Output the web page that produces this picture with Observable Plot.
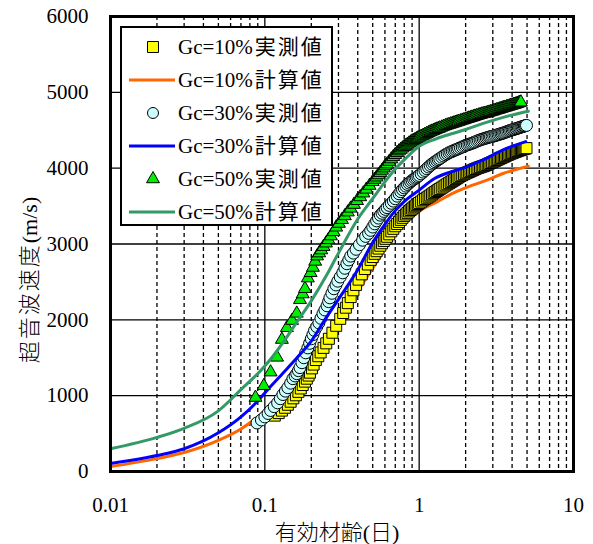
<!DOCTYPE html>
<html>
<head>
<meta charset="utf-8">
<script src="https://cdn.jsdelivr.net/npm/d3@7"></script>
<script src="https://cdn.jsdelivr.net/npm/@observablehq/plot@0.6"></script>
<style>
  html, body { margin: 0; padding: 0; background: white; }
  #wrap { position: relative; width: 593px; height: 544px; }
  #legend { position: absolute; left: 120px; top: 26px; width: 213px; height: 200px; box-sizing: border-box; border: 2px solid black; background: white; }
</style>
</head>
<body>
<div id="wrap"><div id="chart"></div><div id="legend"></div></div>
<script>
// ---- axis ticks ----
const xMajor = [0.01, 0.1, 1, 10];
const xMinorMult = [2, 3, 4, 5, 6, 7, 8, 9];
const yTicks = [0, 1000, 2000, 3000, 4000, 5000, 6000];

// ---- series names ----
const seriesNames = ["Gc=10%実測値", "Gc=10%計算値", "Gc=30%実測値", "Gc=30%計算値", "Gc=50%実測値", "Gc=50%計算値"];

// ---- calculated curves (計算値) ----
const calc10T = [0.01, 0.02, 0.03, 0.05, 0.07, 0.09, 0.1, 0.12, 0.15, 0.2, 0.25, 0.3, 0.4, 0.5, 0.565, 0.7, 0.84, 1.03, 1.33, 1.61, 2.0, 2.64, 3.5, 5.1];
const calc10V = [65, 170, 250, 410, 560, 720, 790, 950, 1180, 1480, 1750, 1980, 2380, 2680, 2850, 3140, 3320, 3450, 3566, 3658, 3740, 3829, 3930, 4026];

const calc30T = [0.01, 0.02, 0.03, 0.05, 0.07, 0.09, 0.11, 0.13, 0.16, 0.2, 0.25, 0.3, 0.4, 0.5, 0.6, 0.7, 0.8, 1.0, 1.25, 1.6, 2.0, 2.6, 3.5, 4.9];
const calc30V = [105, 210, 300, 510, 720, 930, 1130, 1290, 1490, 1720, 2030, 2270, 2660, 3020, 3260, 3440, 3560, 3710, 3860, 3950, 4010, 4110, 4240, 4350];

const calc50T = [0.01, 0.02, 0.03, 0.05, 0.07, 0.1, 0.13, 0.16, 0.2, 0.25, 0.3, 0.4, 0.5, 0.6, 0.7, 0.8, 1.0, 1.3, 1.6, 2.0, 2.6, 3.5, 5.1];
const calc50V = [300, 450, 570, 800, 1080, 1390, 1690, 1960, 2250, 2580, 2880, 3330, 3600, 3820, 3990, 4110, 4290, 4390, 4450, 4510, 4590, 4670, 4750];

// ---- measured points (実測値), early ages: own time stamps ----
const meas10T = [0.116, 0.123, 0.129, 0.135, 0.141, 0.147, 0.153, 0.159, 0.165, 0.171, 0.176, 0.182, 0.187, 0.192, 0.196, 0.202, 0.207, 0.214, 0.222, 0.230, 0.240, 0.250, 0.260, 0.274, 0.290, 0.308, 0.322, 0.335, 0.345, 0.360, 0.375, 0.390, 0.405, 0.425, 0.445, 0.465, 0.485];
const meas10V = [737, 770, 803, 840, 880, 920, 965, 1005, 1050, 1095, 1140, 1185, 1224, 1265, 1303, 1360, 1410, 1470, 1520, 1570, 1630, 1690, 1750, 1830, 1921, 2013, 2090, 2160, 2220, 2300, 2390, 2460, 2530, 2600, 2670, 2730, 2790];

const meas30T = [0.089, 0.095, 0.100, 0.105, 0.109, 0.115, 0.121, 0.126, 0.131, 0.136, 0.141, 0.147, 0.152, 0.157, 0.161, 0.165, 0.169, 0.174, 0.179, 0.184, 0.190, 0.195, 0.200, 0.205, 0.210, 0.217, 0.224, 0.231, 0.238, 0.245, 0.253, 0.259, 0.264, 0.272, 0.280, 0.289, 0.297, 0.308, 0.320, 0.330, 0.340, 0.350, 0.360, 0.375, 0.39, 0.41, 0.43, 0.45, 0.47, 0.485];
const meas30V = [640, 680, 720, 765, 805, 855, 905, 960, 1015, 1060, 1105, 1165, 1224, 1260, 1290, 1330, 1370, 1435, 1500, 1565, 1630, 1690, 1750, 1805, 1860, 1910, 1960, 2020, 2080, 2130, 2185, 2240, 2290, 2350, 2410, 2460, 2510, 2565, 2620, 2680, 2740, 2790, 2840, 2880, 2930, 2990, 3050, 3100, 3140, 3180];

const meas50T = [0.087, 0.0985, 0.109, 0.120, 0.129, 0.139, 0.150, 0.161, 0.169, 0.176, 0.182, 0.190, 0.198, 0.205, 0.212, 0.218, 0.225, 0.232, 0.240, 0.249, 0.258, 0.268, 0.279, 0.290, 0.302, 0.316, 0.330, 0.345, 0.360, 0.378, 0.396, 0.415, 0.435, 0.455, 0.477];
const meas50V = [975, 1130, 1310, 1505, 1740, 1895, 1990, 2085, 2265, 2340, 2410, 2550, 2620, 2690, 2770, 2840, 2880, 2920, 2965, 3010, 3055, 3105, 3160, 3220, 3270, 3320, 3370, 3420, 3470, 3520, 3570, 3620, 3670, 3720, 3770];

// ---- measured points, later ages: common time stamps for all specimens ----
const measLateT = [0.50, 0.515, 0.53, 0.545, 0.56, 0.575, 0.59, 0.605, 0.62, 0.64, 0.66, 0.68, 0.70, 0.72, 0.74, 0.76, 0.78, 0.80, 0.82, 0.84, 0.86, 0.88, 0.90, 0.92, 0.94, 0.96, 0.98, 1.00, 1.03, 1.06, 1.09, 1.12, 1.15, 1.18, 1.21, 1.24, 1.27, 1.30, 1.33, 1.36, 1.40, 1.44, 1.48, 1.52, 1.56, 1.60, 1.64, 1.68, 1.72, 1.76, 1.80, 1.85, 1.90, 1.95, 2.00, 2.05, 2.10, 2.15, 2.20, 2.25, 2.30, 2.36, 2.42, 2.48, 2.54, 2.60, 2.66, 2.72, 2.78, 2.84, 2.90, 2.97, 3.04, 3.11, 3.18, 3.25, 3.32, 3.39, 3.46, 3.53, 3.60, 3.68, 3.76, 3.84, 3.92, 4.00, 4.08, 4.16, 4.24, 4.32, 4.40, 4.48, 4.56, 4.64, 4.72, 4.80, 4.88, 4.96];
const meas10LateV = [2828, 2870, 2905, 2940, 2977, 3010, 3040, 3068, 3095, 3128, 3167, 3200, 3234, 3263, 3291, 3318, 3345, 3370, 3390, 3410, 3430, 3448, 3466, 3482, 3497, 3512, 3527, 3541, 3559, 3577, 3594, 3610, 3625, 3640, 3655, 3670, 3685, 3699, 3713, 3726, 3742, 3758, 3773, 3788, 3802, 3816, 3829, 3842, 3856, 3869, 3881, 3896, 3907, 3920, 3931, 3941, 3951, 3960, 3969, 3978, 3988, 3997, 4005, 4013, 4020, 4026, 4033, 4042, 4051, 4060, 4068, 4078, 4088, 4097, 4107, 4116, 4125, 4133, 4142, 4150, 4158, 4167, 4175, 4184, 4192, 4198, 4205, 4212, 4218, 4225, 4231, 4236, 4241, 4246, 4251, 4256, 4260, 4264];
const meas30LateV = [3224, 3266, 3305, 3342, 3380, 3405, 3430, 3456, 3480, 3509, 3537, 3566, 3597, 3631, 3662, 3690, 3716, 3740, 3763, 3785, 3803, 3821, 3837, 3852, 3866, 3878, 3890, 3904, 3925, 3948, 3970, 3993, 4015, 4035, 4054, 4070, 4085, 4100, 4113, 4126, 4144, 4161, 4177, 4190, 4203, 4213, 4223, 4232, 4241, 4250, 4258, 4269, 4279, 4290, 4300, 4307, 4314, 4322, 4329, 4337, 4345, 4355, 4364, 4372, 4379, 4386, 4392, 4398, 4404, 4410, 4414, 4419, 4424, 4430, 4436, 4442, 4448, 4454, 4459, 4465, 4472, 4479, 4486, 4493, 4499, 4505, 4510, 4515, 4520, 4525, 4531, 4536, 4541, 4546, 4551, 4556, 4560, 4564];
const meas50LateV = [3820, 3850, 3880, 3910, 3940, 3970, 4000, 4028, 4053, 4087, 4120, 4149, 4177, 4203, 4225, 4245, 4264, 4281, 4298, 4313, 4328, 4342, 4355, 4365, 4375, 4385, 4395, 4405, 4418, 4430, 4443, 4455, 4466, 4477, 4486, 4496, 4505, 4513, 4520, 4528, 4539, 4550, 4558, 4566, 4574, 4581, 4588, 4595, 4602, 4608, 4615, 4622, 4630, 4637, 4645, 4651, 4658, 4665, 4671, 4677, 4684, 4691, 4698, 4705, 4711, 4716, 4720, 4725, 4731, 4737, 4742, 4748, 4755, 4762, 4768, 4773, 4779, 4785, 4791, 4796, 4801, 4807, 4813, 4819, 4825, 4830, 4835, 4840, 4846, 4852, 4858, 4864, 4870];

// ---- build tables ----
const zip = (T, V) => V.map((v, i) => ({t: T[i], v}));
const c10 = zip(calc10T, calc10V), c30 = zip(calc30T, calc30V), c50 = zip(calc50T, calc50V);
const m10 = zip(meas10T, meas10V).concat(zip(measLateT, meas10LateV));
const m30 = zip(meas30T, meas30V).concat(zip(measLateT, meas30LateV));
const m50 = zip(meas50T, meas50V).concat(zip(measLateT, meas50LateV));
const xMinor = xMajor.slice(0, 3).flatMap(d => xMinorMult.map(m => +(d * m).toPrecision(3)));

const serif = "'Liberation Serif', 'Times New Roman', 'Noto Sans CJK JP', serif";
const cjk = "'Liberation Serif', 'Noto Sans CJK JP', sans-serif";

const style = {
  orange: "#ff6600", blue: "#0000ff", green: "#339966",
  sq: "#ffff00", ci: "#ccffff", tr: "#00ee00"
};
const rSq = 6.2, rCi = 6, rTr = 4.8;

const chart = Plot.plot({
  width: 593, height: 544,
  marginLeft: 110, marginRight: 20, marginTop: 16, marginBottom: 73,
  style: {fontFamily: serif, fontSize: "21px", color: "black", background: "white", overflow: "visible"},
  x: {type: "log", domain: [0.01, 10]},
  y: {domain: [0, 6000]},
  marks: [
    Plot.ruleX(xMinor, {stroke: "black", strokeWidth: 1.3, strokeDasharray: "4,3"}),
    Plot.ruleX(xMajor.slice(1, 3), {stroke: "black", strokeWidth: 1.3}),
    Plot.ruleY(yTicks.slice(1, 6), {stroke: "black", strokeWidth: 1.3}),
    Plot.line(c10, {x: "t", y: "v", stroke: style.orange, strokeWidth: 3, curve: "monotone-x"}),
    Plot.dot(m10, {x: "t", y: "v", symbol: "square", r: rSq, fill: style.sq, stroke: "black", strokeWidth: 1}),
    Plot.dot(m30, {x: "t", y: "v", symbol: "circle", r: rCi, fill: style.ci, stroke: "black", strokeWidth: 1}),
    Plot.line(c30, {x: "t", y: "v", stroke: style.blue, strokeWidth: 3, curve: "monotone-x"}),
    Plot.dot(m50, {x: "t", y: "v", symbol: "triangle", r: rTr, fill: style.tr, stroke: "black", strokeWidth: 1}),
    Plot.line(c50, {x: "t", y: "v", stroke: style.green, strokeWidth: 3, curve: "monotone-x"}),
    Plot.frame({stroke: "black", strokeWidth: 3}),
    Plot.axisX(xMajor, {tickSize: 0, tickPadding: 26, tickFormat: d3.format("~g"), label: null, fontSize: 21}),
    Plot.axisY(yTicks, {tickSize: 0, tickPadding: 22, tickFormat: d3.format("d"), label: null, fontSize: 21})
  ]
});
document.getElementById("chart").appendChild(chart);

// axis titles
const svg = d3.select(chart);
const yl = svg.append("text")
  .attr("transform", "translate(29,280) rotate(-90)")
  .attr("text-anchor", "middle").attr("dominant-baseline", "central")
  .style("font-family", cjk).style("font-size", "22px").style("font-weight", "300").attr("fill", "black");
yl.append("tspan").style("letter-spacing", "2px").text("超音波速度");
yl.append("tspan").text("(m/s)");
svg.append("text")
  .attr("x", 337).attr("y", 532)
  .attr("text-anchor", "middle").attr("dominant-baseline", "central")
  .style("font-family", cjk).style("font-size", "22px").style("font-weight", "300").attr("fill", "black")
  .text("有効材齢(日)");

// legend
const legendItems = [
  {name: seriesNames[0], kind: "dot", sym: d3.symbolSquare, r: rSq, fill: style.sq},
  {name: seriesNames[1], kind: "line", color: style.orange},
  {name: seriesNames[2], kind: "dot", sym: d3.symbolCircle, r: 5.5, fill: style.ci},
  {name: seriesNames[3], kind: "line", color: style.blue},
  {name: seriesNames[4], kind: "dot", sym: d3.symbolTriangle, r: rTr, fill: style.tr},
  {name: seriesNames[5], kind: "line", color: style.green}
];
const lg = d3.select("#legend").append("svg").attr("width", 209).attr("height", 196);
const row = lg.selectAll("g").data(legendItems).join("g")
  .attr("transform", (d, i) => `translate(0,${19 + i * 33})`);
row.filter(d => d.kind === "line").append("line")
  .attr("x1", 7).attr("x2", 53).attr("y1", 0).attr("y2", 0)
  .attr("stroke", d => d.color).attr("stroke-width", 3);
row.filter(d => d.kind === "dot").append("path")
  .attr("transform", "translate(31,0)")
  .attr("d", d => d3.symbol(d.sym, Math.PI * d.r * d.r)())
  .attr("fill", d => d.fill).attr("stroke", "black").attr("stroke-width", 1);
const txt = row.append("text").attr("x", 56).attr("y", 0).attr("dominant-baseline", "central")
  .style("font-family", cjk).style("font-size", "21px").attr("fill", "black");
txt.append("tspan").text(d => d.name.slice(0, 6));
txt.append("tspan").attr("dx", 2).style("letter-spacing", "2px").text(d => d.name.slice(6));
</script>
</body>
</html>
